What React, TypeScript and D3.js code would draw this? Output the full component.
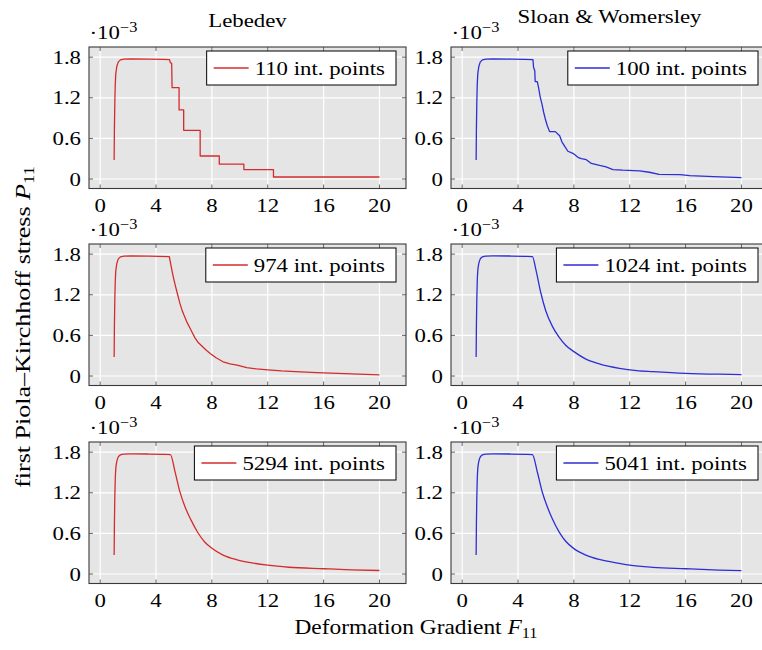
import React from "react";
import * as d3 from "d3";

// ---------------- data ----------------
const xTicks = [0, 4, 8, 12, 16, 20];
const yTicks = [0, 0.6, 1.2, 1.8];
const yTickLabels = ["0", "0.6", "1.2", "1.8"];
const colTitles = ["Lebedev", "Sloan & Womersley"];

const leb110F = [1.0, 1.02, 1.05, 1.08, 1.12, 1.2, 1.3, 1.45, 1.7, 2.2, 3.5, 4.5, 4.97, 5.02, 5.12, 5.15, 5.65, 5.65, 5.98, 5.98, 7.16, 7.16, 8.53, 8.53, 10.29, 10.29, 12.41, 12.41, 20.0];
const leb110P = [0.28, 0.75, 1.15, 1.4, 1.56, 1.67, 1.73, 1.76, 1.772, 1.775, 1.772, 1.768, 1.765, 1.72, 1.71, 1.35, 1.35, 1.02, 1.02, 0.72, 0.72, 0.34, 0.34, 0.22, 0.22, 0.14, 0.14, 0.03, 0.03];

const sw100F = [1.0, 1.02, 1.05, 1.08, 1.12, 1.2, 1.3, 1.45, 1.7, 2.2, 3.5, 4.5, 5.07, 5.11, 5.2, 5.23, 5.38, 5.47, 5.59, 5.71, 5.83, 5.95, 6.09, 6.26, 6.67, 6.98, 7.14, 7.38, 7.57, 7.93, 8.29, 8.53, 8.89, 9.25, 9.84, 10.3, 10.8, 11.5, 12.7, 13.4, 14.1, 15.6, 16.3, 18.0, 20.0];
const sw100P = [0.28, 0.75, 1.15, 1.4, 1.56, 1.67, 1.73, 1.76, 1.772, 1.775, 1.772, 1.768, 1.765, 1.65, 1.6, 1.44, 1.44, 1.35, 1.21, 1.11, 0.99, 0.89, 0.79, 0.7, 0.7, 0.64, 0.55, 0.47, 0.41, 0.38, 0.32, 0.3, 0.285, 0.23, 0.2, 0.18, 0.14, 0.13, 0.12, 0.1, 0.07, 0.065, 0.05, 0.035, 0.02];

const leb974F = [1.0, 1.02, 1.05, 1.08, 1.12, 1.2, 1.3, 1.45, 1.7, 2.2, 3.5, 4.95, 5.1, 5.25, 5.4, 5.55, 5.7, 5.85, 6.0, 6.2, 6.4, 6.6, 6.8, 7.0, 7.3, 7.6, 7.9, 8.3, 8.8, 9.3, 9.8, 10.5, 11.2, 12.0, 13.0, 14.0, 15.5, 17.0, 18.5, 20.0];
const leb974P = [0.28, 0.75, 1.15, 1.4, 1.56, 1.67, 1.73, 1.76, 1.772, 1.775, 1.772, 1.765, 1.6, 1.45, 1.32, 1.2, 1.08, 0.98, 0.9, 0.8, 0.72, 0.64, 0.56, 0.5, 0.44, 0.38, 0.33, 0.27, 0.21, 0.18, 0.16, 0.125, 0.105, 0.09, 0.075, 0.065, 0.05, 0.04, 0.028, 0.018];

const sw1024F = [1.0, 1.02, 1.05, 1.08, 1.12, 1.2, 1.3, 1.45, 1.7, 2.2, 3.5, 4.5, 5.03, 5.27, 5.63, 5.99, 6.47, 6.95, 7.43, 8.0, 8.86, 9.82, 11.26, 12.5, 13.65, 16.0, 18.4, 20.0];
const sw1024P = [0.28, 0.75, 1.15, 1.4, 1.56, 1.67, 1.73, 1.76, 1.772, 1.775, 1.772, 1.768, 1.765, 1.58, 1.23, 0.96, 0.73, 0.57, 0.45, 0.36, 0.25, 0.18, 0.114, 0.08, 0.065, 0.04, 0.027, 0.022];

const leb5294F = [1.0, 1.02, 1.05, 1.08, 1.12, 1.2, 1.3, 1.45, 1.7, 2.2, 3.5, 4.5, 5.03, 5.35, 5.7, 6.1, 6.5, 7.0, 7.5, 8.0, 8.8, 9.8, 11.0, 12.0, 13.5, 16.0, 18.0, 20.0];
const leb5294P = [0.28, 0.75, 1.15, 1.4, 1.56, 1.67, 1.73, 1.76, 1.772, 1.775, 1.772, 1.768, 1.765, 1.52, 1.22, 0.98, 0.8, 0.61, 0.47, 0.38, 0.28, 0.21, 0.16, 0.13, 0.1, 0.078, 0.062, 0.052];

const sw5041F = [1.0, 1.02, 1.05, 1.08, 1.12, 1.2, 1.3, 1.45, 1.7, 2.2, 3.5, 4.5, 5.03, 5.39, 5.75, 6.11, 6.47, 6.95, 7.43, 8.0, 8.86, 9.82, 11.26, 12.0, 13.65, 16.0, 18.4, 20.0];
const sw5041P = [0.28, 0.75, 1.15, 1.4, 1.56, 1.67, 1.73, 1.76, 1.772, 1.775, 1.772, 1.768, 1.765, 1.5, 1.2, 0.985, 0.81, 0.62, 0.48, 0.375, 0.28, 0.215, 0.156, 0.13, 0.098, 0.078, 0.059, 0.049];

const legendLabels = ["110 int. points", "100 int. points", "974 int. points", "1024 int. points", "5294 int. points", "5041 int. points"];

// ---------------- style / layout ----------------
const RED = "#d42c2c";
const BLUE = "#2e2ed6";
const FONT = "'Liberation Serif', 'Times New Roman', serif";
const FS = 19.5;
const SX = 1.17;

const W = 762;
const H = 650;
const colLeft = [89, 451];
const rowTop = [47, 244, 442];
const PW = 317;
const PH = 141.5;

const panels = [
  { r: 0, c: 0, F: leb110F, P: leb110P, color: RED, label: legendLabels[0], smooth: false },
  { r: 0, c: 1, F: sw100F, P: sw100P, color: BLUE, label: legendLabels[1], smooth: false },
  { r: 1, c: 0, F: leb974F, P: leb974P, color: RED, label: legendLabels[2], smooth: false },
  { r: 1, c: 1, F: sw1024F, P: sw1024P, color: BLUE, label: legendLabels[3], smooth: true },
  { r: 2, c: 0, F: leb5294F, P: leb5294P, color: RED, label: legendLabels[4], smooth: true },
  { r: 2, c: 1, F: sw5041F, P: sw5041P, color: BLUE, label: legendLabels[5], smooth: true },
];

let ctx: CanvasRenderingContext2D | null = null;
function measure(s: string, fs = FS) {
  if (!ctx) {
    const cv = document.createElement("canvas");
    ctx = cv.getContext("2d");
  }
  if (!ctx) return s.length * fs * 0.5 * SX;
  ctx.font = `${fs}px 'Liberation Serif'`;
  return ctx.measureText(s).width * SX;
}

function Txt({ x, y, anchor = "start", rot = 0, sx = SX, fs = FS, children }: any) {
  return (
    <text
      transform={`translate(${x},${y}) rotate(${rot}) scale(${sx},1)`}
      textAnchor={anchor}
      fontSize={fs}
      fontFamily={FONT}
      fill="#000"
    >
      {children}
    </text>
  );
}

function Panel({ p, idx }: any) {
  const left = colLeft[p.c];
  const top = rowTop[p.r];
  const x = d3.scaleLinear().domain([-0.8, 21.9]).range([left, left + PW]);
  const y = d3.scaleLinear().domain([-0.14, 1.95]).range([top + PH, top]);
  const pts = p.F.map((f: number, i: number) => [f, p.P[i]]);
  const line = d3
    .line<number[]>()
    .x((d) => x(d[0]))
    .y((d) => y(d[1]))
    .curve(p.smooth ? d3.curveMonotoneX : d3.curveLinear);
  const clipId = `clip${idx}`;
  const tw = measure(p.label);
  const lgW = tw + 59;
  const lgR = left + PW - 10;
  const lgX = lgR - lgW;
  const lgY = top + 4;
  const lgH = 34;
  return (
    <g>
      <defs>
        <clipPath id={clipId}>
          <rect x={left} y={top} width={PW} height={PH} />
        </clipPath>
      </defs>
      <rect x={left} y={top} width={PW} height={PH} fill="#e5e5e5" />
      {xTicks.map((t) => (
        <line key={"gx" + t} x1={x(t)} x2={x(t)} y1={top} y2={top + PH} stroke="#fff" strokeWidth={1.2} />
      ))}
      {yTicks.map((t) => (
        <line key={"gy" + t} x1={left} x2={left + PW} y1={y(t)} y2={y(t)} stroke="#fff" strokeWidth={1.2} />
      ))}
      {xTicks.map((t) => (
        <g key={"tx" + t}>
          <line x1={x(t)} x2={x(t)} y1={top + PH} y2={top + PH - 4} stroke="#666" strokeWidth={1} />
          <line x1={x(t)} x2={x(t)} y1={top} y2={top + 4} stroke="#666" strokeWidth={1} />
        </g>
      ))}
      {yTicks.map((t) => (
        <g key={"ty" + t}>
          <line x1={left} x2={left + 4} y1={y(t)} y2={y(t)} stroke="#666" strokeWidth={1} />
          <line x1={left + PW} x2={left + PW - 4} y1={y(t)} y2={y(t)} stroke="#666" strokeWidth={1} />
        </g>
      ))}
      <path d={line(pts) || ""} fill="none" stroke={p.color} strokeWidth={1.3} clipPath={`url(#${clipId})`} strokeLinejoin="round" />
      <rect x={left} y={top} width={PW} height={PH} fill="none" stroke="#3a3a3a" strokeWidth={1.1} />
      {xTicks.map((t) => (
        <Txt key={"lx" + t} x={x(t)} y={top + PH + 23.5} anchor="middle">
          {String(t)}
        </Txt>
      ))}
      {yTicks.map((t, i) => (
        <Txt key={"ly" + t} x={left - 8} y={y(t) + 6.5} anchor="end">
          {yTickLabels[i]}
        </Txt>
      ))}
      <Txt x={left + 0.5} y={top - 8}>
        ·10<tspan dy={-7} fontSize={14}>−3</tspan>
      </Txt>
      <rect x={lgX} y={lgY} width={lgW} height={lgH} fill="#fff" stroke="#000" strokeWidth={1} />
      <line x1={lgX + 7} x2={lgX + 42} y1={lgY + lgH / 2} y2={lgY + lgH / 2} stroke={p.color} strokeWidth={1.3} />
      <Txt x={lgX + 48} y={lgY + lgH / 2 + 6.5}>
        {p.label}
      </Txt>
    </g>
  );
}

export default function App() {
  return (
    <svg
      width={W}
      height={H}
      viewBox={`0 0 ${W} ${H}`}
      style={{ position: "absolute", left: 0, top: 0, background: "#fff", overflow: "hidden" }}
    >
      <rect x={0} y={0} width={W} height={H} fill="#fff" />
      {panels.map((p, i) => (
        <Panel key={i} p={p} idx={i} />
      ))}
      <Txt x={colLeft[0] + PW / 2} y={27} anchor="middle">
        {colTitles[0]}
      </Txt>
      <Txt x={colLeft[1] + PW / 2} y={23} anchor="middle">
        {colTitles[1]}
      </Txt>
      <Txt x={416} y={634} anchor="middle" fs={20}>
        Deformation Gradient <tspan fontStyle="italic">F</tspan>
        <tspan fontSize={14} dy={4}>11</tspan>
      </Txt>
      <Txt x={30} y={327} anchor="middle" rot={-90} fs={21} sx={1.24}>
        first Piola–Kirchhoff stress <tspan fontStyle="italic">P</tspan>
        <tspan fontSize={15} dy={4}>11</tspan>
      </Txt>
    </svg>
  );
}
